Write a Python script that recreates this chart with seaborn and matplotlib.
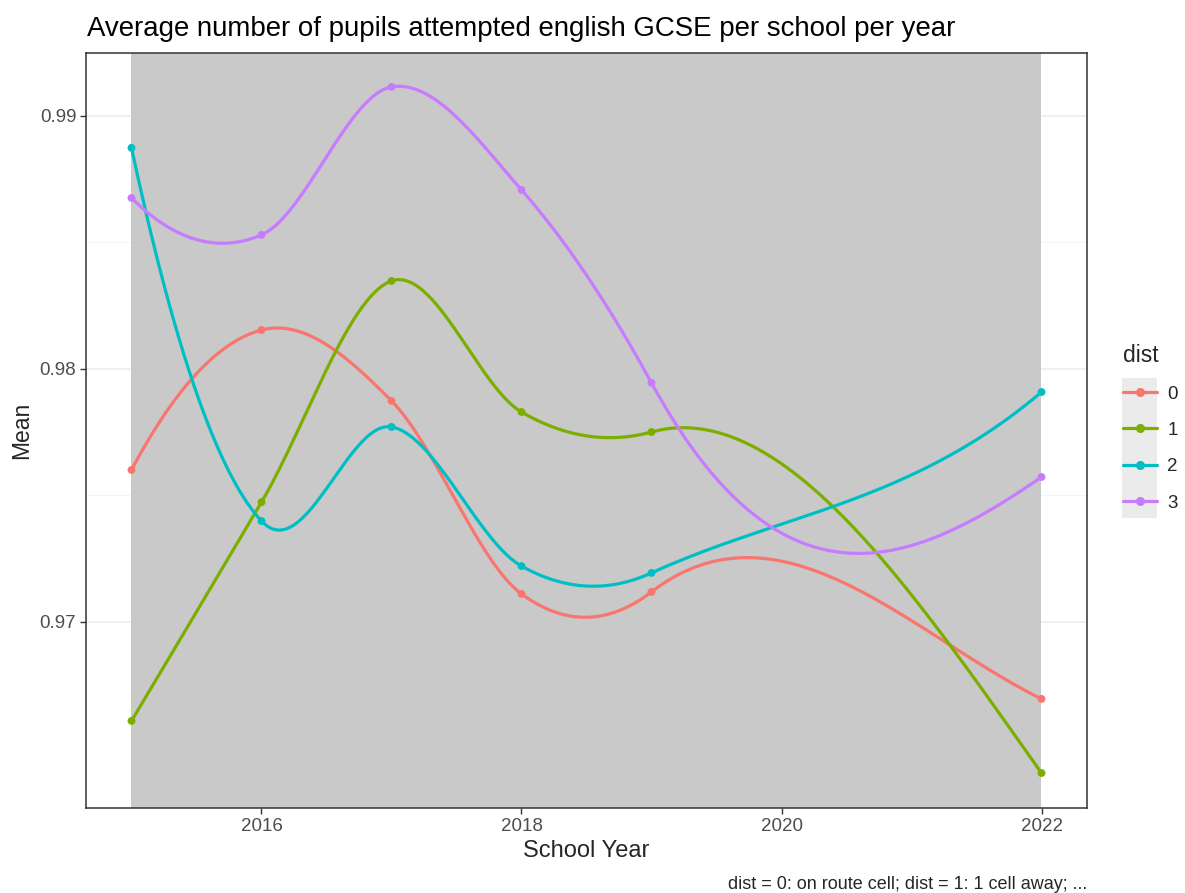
import numpy as np
import pandas as pd
import matplotlib
matplotlib.use("Agg")
import matplotlib.pyplot as plt
import seaborn as sns
from matplotlib.lines import Line2D
from matplotlib.patches import Rectangle

# School years with results
years = [2015, 2016, 2017, 2018, 2019, 2022]
dist_levels = ["0", "1", "2", "3"]

# Mean share of pupils attempting English GCSE, per distance band
mean_dist0 = [0.97601, 0.98154, 0.97874, 0.97111, 0.97119, 0.96696]
mean_dist1 = [0.96609, 0.97474, 0.98348, 0.97830, 0.97751, 0.96403]
mean_dist2 = [0.98874, 0.97399, 0.97771, 0.97221, 0.97194, 0.97909]
mean_dist3 = [0.98676, 0.98530, 0.99115, 0.98708, 0.97945, 0.97573]

palette = ["#F8766D", "#7CAE00", "#00BFC4", "#C77CFF"]

series = [mean_dist0, mean_dist1, mean_dist2, mean_dist3]
df = pd.DataFrame({
    "year": np.tile(years, len(dist_levels)),
    "mean": np.concatenate(series),
    "dist": np.repeat(dist_levels, len(years)),
})


def local_quadratic(x0, x, y, span=0.75):
    """Tricube-weighted local quadratic fit at x0; returns value and slope."""
    d = np.abs(x - x0)
    q = int(np.floor(len(x) * span))
    rho = np.sort(d)[q - 1]
    u = d / rho
    w = np.where(u < 1, (1 - u ** 3) ** 3, 0.0)
    X = np.column_stack([np.ones_like(x), x - x0, (x - x0) ** 2])
    sw = np.sqrt(w)
    beta = np.linalg.lstsq(X * sw[:, None], y * sw, rcond=None)[0]
    return beta[0], beta[1]


def loess_smooth(x, y, xs, span=0.75):
    """Loess curve: local fits at the vertices, cubic Hermite in between."""
    x = np.asarray(x, float)
    y = np.asarray(y, float)
    fits = np.array([local_quadratic(v, x, y, span) for v in x])
    val, slope = fits[:, 0], fits[:, 1]
    idx = np.clip(np.searchsorted(x, xs, side="right") - 1, 0, len(x) - 2)
    h = x[idx + 1] - x[idx]
    s = (xs - x[idx]) / h
    h00 = 2 * s ** 3 - 3 * s ** 2 + 1
    h10 = s ** 3 - 2 * s ** 2 + s
    h01 = -2 * s ** 3 + 3 * s ** 2
    h11 = s ** 3 - s ** 2
    return (h00 * val[idx] + h10 * h * slope[idx]
            + h01 * val[idx + 1] + h11 * h * slope[idx + 1])


grid_x = np.linspace(min(years), max(years), 400)
smooth = pd.concat([
    pd.DataFrame({"year": grid_x,
                  "mean": loess_smooth(years, vals, grid_x),
                  "dist": lvl})
    for lvl, vals in zip(dist_levels, series)
], ignore_index=True)

sns.set_theme(style="white")
plt.rcParams["font.family"] = ["Liberation Sans", "DejaVu Sans"]

W, H = 1185, 893
fig = plt.figure(figsize=(W / 100, H / 100), dpi=100)
ax = fig.add_axes([86 / W, 1 - 808 / H, (1087 - 86) / W, (808 - 53) / H])

# gridlines sit beneath the shaded period
ax.set_axisbelow(True)
ax.set_yticks([0.975, 0.985], minor=True)
ax.yaxis.grid(True, which="major", color="#ebebeb", lw=1.1)
ax.yaxis.grid(True, which="minor", color="#f2f2f2", lw=0.6)

ax.axvspan(min(years), max(years), color="#c9c9c9", lw=0, zorder=1)

sns.lineplot(data=smooth, x="year", y="mean", hue="dist", palette=palette,
             hue_order=dist_levels, lw=2.3, legend=False, ax=ax, zorder=3)
sns.scatterplot(data=df, x="year", y="mean", hue="dist", palette=palette,
                hue_order=dist_levels, s=32, linewidth=0, legend=False,
                ax=ax, zorder=4)

ax.set_xlim(2014.65, 2022.35)
ax.set_ylim(0.962648, 0.99249)
ax.set_xticks([2016, 2018, 2020, 2022])
ax.set_yticks([0.97, 0.98, 0.99])
ax.set_yticklabels(["0.97", "0.98", "0.99"])
ax.tick_params(axis="both", which="major", length=4, width=1, color="#333333",
               labelcolor="#4d4d4d", labelsize=13.5, pad=3, bottom=True, left=True)
ax.tick_params(axis="both", which="minor", length=0)
ax.set_xlabel("")
ax.set_ylabel("")
for sp in ax.spines.values():
    sp.set_color("#333333")
    sp.set_linewidth(1.1)

fig.text(87 / W, 1 - 36 / H,
         "Average number of pupils attempted english GCSE per school per year",
         fontsize=19.9, va="baseline", ha="left", color="black")
fig.text(586 / W, 1 - 851 / H, "School Year", fontsize=17, ha="center", va="center")
fig.text(22 / W, 1 - 430 / H, "Mean", fontsize=16.5, ha="center", va="center",
         rotation=90)
fig.text(1087 / W, 1 - 889 / H,
         "dist = 0: on route cell; dist = 1: 1 cell away; ...",
         fontsize=13, ha="right", va="baseline")

# legend with shaded key background
fig.add_artist(Rectangle((1122 / W, 1 - 518 / H), 35 / W, 140 / H,
                         transform=fig.transFigure, color="#ebebeb", lw=0,
                         zorder=0))
handles = [Line2D([0], [0], color=c, lw=2.3, marker="o", ms=5.5) for c in palette]
leg = fig.legend(handles, dist_levels, title="dist", loc="upper left",
                 bbox_to_anchor=(1115 / W, 1 - 336 / H), frameon=False,
                 fontsize=13.5, title_fontsize=16.5, handlelength=1.85,
                 handletextpad=0.55, labelspacing=1.02, alignment="left",
                 borderaxespad=0)

fig.savefig("out.png", dpi=100)
